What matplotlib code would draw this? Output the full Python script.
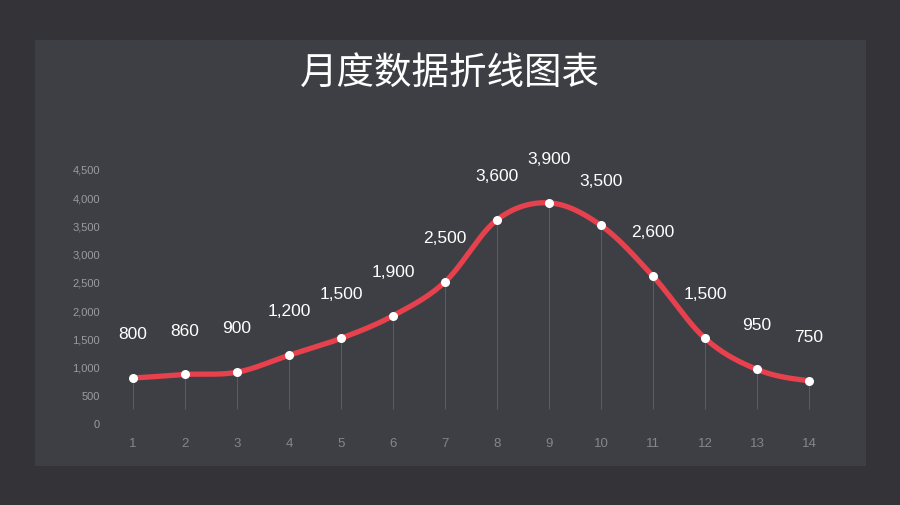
import numpy as np
import matplotlib.pyplot as plt
from matplotlib.patches import Rectangle

plt.rcParams['font.family'] = ['Noto Sans CJK SC', 'DejaVu Sans']

# ------------------------------
# Data
# ------------------------------
title = '月度数据折线图表'
months = list(range(1, 15))
values = [800, 860, 900, 1200, 1500, 1900, 2500, 3600, 3900, 3500, 2600, 1500, 950, 750]
y_ticks = list(range(0, 5000, 500))

BG = '#333338'
PANEL = '#3e3f45'
RED = '#e8414e'


def smooth(x, y, n=30):
    # Catmull-Rom spline, only used to draw the curve shape
    x = np.asarray(x, float)
    y = np.asarray(y, float)
    px = np.concatenate([[2 * x[0] - x[1]], x, [2 * x[-1] - x[-2]]])
    py = np.concatenate([[y[0]], y, [y[-1]]])
    xs, ys = [], []
    t = np.linspace(0, 1, n)
    for i in range(1, len(px) - 2):
        p0, p1, p2, p3 = py[i - 1], py[i], py[i + 1], py[i + 2]
        q0, q1, q2, q3 = px[i - 1], px[i], px[i + 1], px[i + 2]
        f = lambda a, b, c, d: 0.5 * ((2 * b) + (-a + c) * t +
                                      (2 * a - 5 * b + 4 * c - d) * t ** 2 +
                                      (-a + 3 * b - 3 * c + d) * t ** 3)
        xs.append(f(q0, q1, q2, q3))
        ys.append(f(p0, p1, p2, p3))
    return np.concatenate(xs), np.concatenate(ys)


fig = plt.figure(figsize=(9, 5.06), dpi=100, facecolor=BG)

# panel card
fig.patches.append(Rectangle((35 / 900, 1 - 467 / 506), 831 / 900, 426 / 506,
                             transform=fig.transFigure, facecolor=PANEL,
                             edgecolor='none', zorder=-1))

fig.text(0.5, 1 - 73 / 506, title, ha='center', va='center',
         fontsize=27, color='white', weight='medium')

ax = fig.add_axes([107 / 900, 1 - 424 / 506, 728 / 900, 254 / 506])
ax.set_facecolor('none')
ax.set_xlim(0.5, 14.5)
ax.set_ylim(0, 4500)

# drop lines
ax.vlines(months, 250, values, color='#9a9aa0', lw=0.5, alpha=0.45, zorder=1)

sx, sy = smooth(months, values)
ax.plot(sx, sy, color=RED, lw=3.8, solid_capstyle='round', zorder=2)
ax.scatter(months, values, s=30, color='white', zorder=3, clip_on=False)

for m, v in zip(months, values):
    ax.annotate(f'{v:,}', (m, v), xytext=(0, 32), textcoords='offset points',
                ha='center', va='center', fontsize=12.5, color='white',
                family=['Liberation Sans', 'DejaVu Sans'])

ax.set_xticks(months)
ax.set_xticklabels([str(m) for m in months])
ax.set_yticks(y_ticks)
ax.set_yticklabels([f'{t:,}' for t in y_ticks])
for lbl in ax.get_xticklabels():
    lbl.set_family(['Liberation Sans', 'DejaVu Sans'])
    lbl.set_fontsize(9.5)
    lbl.set_color('#85858a')
for lbl in ax.get_yticklabels():
    lbl.set_family(['Liberation Sans', 'DejaVu Sans'])
    lbl.set_fontsize(8)
    lbl.set_color('#9a9aa0')
ax.tick_params(axis='both', length=0)
ax.tick_params(axis='x', pad=10)
ax.tick_params(axis='y', pad=5)
for s in ax.spines.values():
    s.set_visible(False)

fig.savefig('out.png', dpi=100, facecolor=BG)
